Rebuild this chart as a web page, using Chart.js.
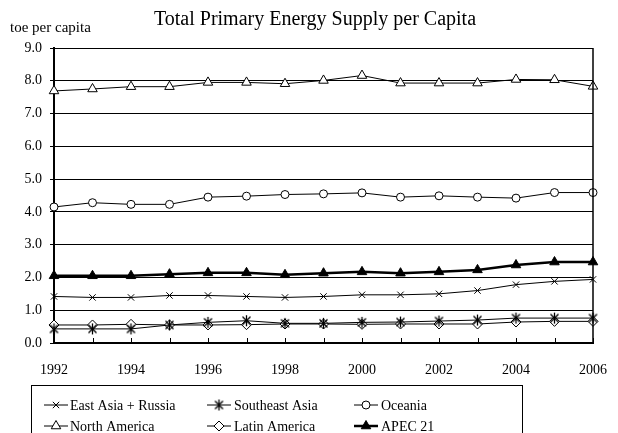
<!DOCTYPE html>
<html>
<head>
<meta charset="utf-8">
<script src="https://cdn.jsdelivr.net/npm/chart.js@4/dist/chart.umd.min.js"></script>
<style>
html, body { margin: 0; padding: 0; background: #ffffff; }
canvas { display: block; }
</style>
</head>
<body>
<canvas id="c" width="618" height="433"></canvas>
<script>
// ---- Data ----
const years = ['1992','1993','1994','1995','1996','1997','1998','1999','2000','2001','2002','2003','2004','2005','2006'];
const eastAsiaRussia = [1.42,1.39,1.39,1.45,1.45,1.42,1.39,1.42,1.47,1.47,1.50,1.60,1.78,1.88,1.94];
const southeastAsia  = [0.43,0.43,0.43,0.55,0.63,0.68,0.60,0.60,0.63,0.64,0.67,0.70,0.76,0.76,0.76];
const oceania        = [4.15,4.28,4.23,4.23,4.45,4.48,4.53,4.55,4.58,4.45,4.49,4.45,4.42,4.59,4.59];
const northAmerica   = [7.69,7.75,7.82,7.82,7.95,7.95,7.91,8.01,8.16,7.93,7.93,7.93,8.04,8.03,7.83];
const latinAmerica   = [0.55,0.55,0.57,0.55,0.55,0.56,0.58,0.58,0.57,0.58,0.58,0.58,0.64,0.66,0.66];
const apec21         = [2.05,2.05,2.05,2.10,2.14,2.14,2.08,2.13,2.17,2.13,2.17,2.23,2.38,2.47,2.47];
const seriesNames = ['East Asia + Russia','Southeast Asia','Oceania','North America','Latin America','APEC 21'];
const yTickValues = [0,1,2,3,4,5,6,7,8,9];
const chartTitle = 'Total Primary Energy Supply per Capita';
const yAxisTitle = 'toe per capita';

// ---- Styling ----
const FONT = "'Liberation Serif', 'Times New Roman', serif";

function makeAsterisk() {
  const s = 13, c = document.createElement('canvas');
  c.width = s; c.height = s;
  const g = c.getContext('2d');
  g.strokeStyle = '#000'; g.lineWidth = 1.3;
  g.beginPath();
  g.moveTo(2.5, 2.5); g.lineTo(10.5, 10.5);
  g.moveTo(10.5, 2.5); g.lineTo(2.5, 10.5);
  g.moveTo(6.5, 1); g.lineTo(6.5, 12);
  g.stroke();
  return c;
}
const asterisk = makeAsterisk();

function ds(label, data, style, radius, fill, width) {
  return {
    label, data,
    borderColor: '#000', borderWidth: width,
    pointStyle: style, pointRadius: radius, pointHoverRadius: radius,
    pointBorderColor: '#000', pointBorderWidth: 1,
    pointBackgroundColor: fill,
    tension: 0, fill: false
  };
}

const datasets = [
  ds(seriesNames[0], eastAsiaRussia, 'crossRot', 4.5, '#000', 1),
  ds(seriesNames[1], southeastAsia, asterisk, 5, '#000', 1),
  ds(seriesNames[2], oceania, 'circle', 4, '#fff', 1),
  ds(seriesNames[3], northAmerica, 'triangle', 5.5, '#fff', 1),
  ds(seriesNames[4], latinAmerica, 'rectRot', 5, '#fff', 1),
  ds(seriesNames[5], apec21, 'triangle', 5.5, '#000', 2.5)
];

function drawMarker(ctx, style, x, y, r, fill) {
  ctx.save();
  ctx.strokeStyle = '#000'; ctx.lineWidth = 1; ctx.fillStyle = fill;
  ctx.beginPath();
  if (style instanceof HTMLCanvasElement) {
    ctx.drawImage(style, x - style.width / 2, y - style.height / 2);
    ctx.restore(); return;
  }
  if (style === 'circle') {
    ctx.arc(x, y, r, 0, Math.PI * 2); ctx.fill(); ctx.stroke();
  } else if (style === 'triangle') {
    for (let i = 0; i < 3; i++) {
      const a = i * 2 * Math.PI / 3;
      const px = x + Math.sin(a) * r, py = y - Math.cos(a) * r;
      if (i === 0) ctx.moveTo(px, py); else ctx.lineTo(px, py);
    }
    ctx.closePath(); ctx.fill(); ctx.stroke();
  } else if (style === 'rectRot') {
    ctx.moveTo(x, y - r); ctx.lineTo(x + r, y); ctx.lineTo(x, y + r); ctx.lineTo(x - r, y);
    ctx.closePath(); ctx.fill(); ctx.stroke();
  } else if (style === 'crossRot') {
    const d = r * Math.SQRT1_2;
    ctx.moveTo(x - d, y - d); ctx.lineTo(x + d, y + d);
    ctx.moveTo(x + d, y - d); ctx.lineTo(x - d, y + d);
    ctx.stroke();
  }
  ctx.restore();
}

const decorPlugin = {
  id: 'decor',
  afterDraw(chart) {
    const ctx = chart.ctx, area = chart.chartArea, xs = chart.scales.x;
    ctx.save();
    // inward x tick marks
    ctx.strokeStyle = '#000'; ctx.lineWidth = 1;
    ctx.beginPath();
    for (let i = 0; i < years.length; i++) {
      const x = Math.round(xs.getPixelForTick(i)) + 0.5;
      ctx.moveTo(x, area.bottom); ctx.lineTo(x, area.bottom - 5);
    }
    ctx.stroke();
    // right border
    ctx.lineWidth = 1.5;
    ctx.beginPath();
    ctx.moveTo(area.right, area.top); ctx.lineTo(area.right, area.bottom);
    ctx.stroke();
    // title
    ctx.fillStyle = '#000';
    ctx.font = '20px ' + FONT;
    ctx.textAlign = 'center'; ctx.textBaseline = 'middle';
    ctx.fillText(chartTitle, 315, 20);
    // y axis title
    ctx.font = '15px ' + FONT;
    ctx.textAlign = 'left';
    ctx.fillText(yAxisTitle, 10, 28);
    // legend box
    ctx.lineWidth = 1;
    ctx.strokeRect(31.5, 385.5, 491, 80);
    const cols = [[44, 68, 70], [207, 231, 234], [354, 378, 381]];
    const rows = [405, 426];
    const order = [0, 1, 2, 3, 4, 5];
    order.forEach((di, k) => {
      const d = chart.data.datasets[di];
      const col = cols[k % 3], y = rows[Math.floor(k / 3)];
      ctx.strokeStyle = '#000';
      ctx.lineWidth = d.borderWidth;
      ctx.beginPath(); ctx.moveTo(col[0], y); ctx.lineTo(col[1], y); ctx.stroke();
      drawMarker(ctx, d.pointStyle, (col[0] + col[1]) / 2, y, d.pointRadius, d.pointBackgroundColor);
      ctx.fillStyle = '#000';
      ctx.font = '14px ' + FONT;
      ctx.textAlign = 'left'; ctx.textBaseline = 'middle';
      ctx.fillText(d.label, col[2], y + 1);
    });
    ctx.restore();
  }
};

new Chart(document.getElementById('c'), {
  type: 'line',
  data: { labels: years, datasets },
  plugins: [decorPlugin],
  options: {
    responsive: false,
    animation: false,
    devicePixelRatio: 1,
    layout: { padding: { left: 0, top: 48, right: 25, bottom: 0 } },
    plugins: { legend: { display: false }, title: { display: false }, tooltip: { enabled: false } },
    scales: {
      x: {
        type: 'category',
        offset: false,
        afterFit(scale) { scale.height = 90; scale.paddingLeft = 0; scale.paddingRight = 0; },
        grid: { display: true, drawOnChartArea: false, drawTicks: false },
        border: { display: true, color: '#000', width: 2 },
        ticks: {
          autoSkip: false, maxRotation: 0, minRotation: 0,
          color: '#000', padding: 19,
          font: { family: FONT, size: 14 },
          callback: (v, i) => (i % 2 === 0 ? years[i] : '')
        }
      },
      y: {
        min: 0, max: 9,
        afterFit(scale) { scale.width = 54; scale.paddingTop = 0; scale.paddingBottom = 0; },
        afterBuildTicks(scale) { scale.ticks = yTickValues.map(v => ({ value: v })); },
        grid: { color: '#000', lineWidth: 1, tickLength: 4, drawTicks: true },
        border: { display: true, color: '#000', width: 2 },
        ticks: {
          color: '#000', padding: 8,
          font: { family: FONT, size: 14 },
          callback: v => Number(v).toFixed(1)
        }
      }
    }
  }
});
</script>
</body>
</html>
